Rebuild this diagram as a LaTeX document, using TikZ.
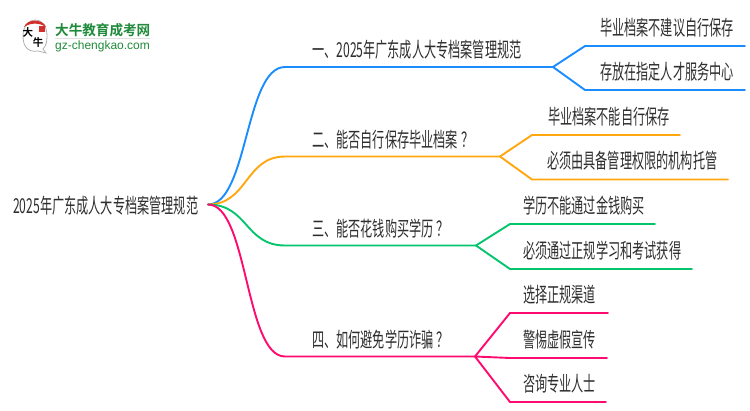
\documentclass[tikz,border=0pt]{standalone}
\usepackage{fontspec}
\usetikzlibrary{calc}
\setmainfont{Liberation Sans}
\newfontfamily\cjk[FakeStretch=0.59]{Noto Sans CJK SC}
\newfontfamily\cjklogo{Noto Sans CJK SC Bold}
\newfontfamily\cjkbold[FakeStretch=0.97]{Noto Sans CJK SC Bold}
\definecolor{cblue}{HTML}{1A8CFF}
\definecolor{corange}{HTML}{FFA70F}
\definecolor{cgreen}{HTML}{05C46E}
\definecolor{cpink}{HTML}{FF0A6E}
\definecolor{ctext}{HTML}{2E2E2E}
\definecolor{logogreen}{HTML}{1F8A3A}
\definecolor{logored}{HTML}{D32F2A}
\tikzset{
  lab/.style={anchor=base west,inner sep=0pt,text=ctext,font=\cjk\fontsize{20.6pt}{22pt}\selectfont},
  wire/.style={line width=1.9pt,line cap=round},
  pt/.style={inner sep=0pt,minimum size=0pt},
}
\newcommand{\qmark}{\hspace{3pt}？}
\begin{document}
\begin{tikzpicture}[x=1pt,y=-1pt]
\useasboundingbox (0,0) rectangle (750,410);
% logo
\draw[black!30,line width=.8pt,fill=white] (43,49) -- (46,53) -- (38,51) .. controls (26,53) and (23,44) .. (23,36) .. controls (23,26) and (29,20) .. (35,20) .. controls (43,20) and (47,27) .. (47,36) .. controls (47,42) and (46,46) .. (43,49) -- cycle;
\fill[logored] (24,27) .. controls (27,18.5) and (43,18.5) .. (46,27) .. controls (39,22.5) and (31,22.5) .. (24,27) -- cycle;
\fill[logored] (38.5,25.5) rectangle (44.5,31.5);
\node[pt,font=\cjklogo\fontsize{10.5pt}{11pt}\selectfont,text=black] (logoda) at (28,32.5) {大};
\node[pt,font=\cjklogo\fontsize{10.5pt}{11pt}\selectfont,text=black] (logoniu) at (38,43) {牛};
\node[pt,anchor=base west,font=\cjkbold\fontsize{14pt}{14pt}\selectfont,text=logogreen] (logot) at (55,35.5) {大牛教育成考网};
\node[pt,anchor=base west,font=\fontsize{12pt}{12pt}\selectfont,text=logogreen] (logou) at (55,49) {gz-chengkao.com};
\fill[black!12] (55,38) rectangle (150,39);
% anchors
\coordinate (root) at (208,204.5);
\coordinate (a) at (285,67); \coordinate (ae) at (553,67);
\coordinate (b) at (285,156.5); \coordinate (be) at (500,156.5);
\coordinate (c) at (285,245.5); \coordinate (ce) at (476,245.5);
\coordinate (d) at (285,356.5); \coordinate (de) at (475,356.5);
\coordinate (a1) at (585,46); \coordinate (a1e) at (745,46);
\coordinate (a2) at (585,90); \coordinate (a2e) at (745,90);
\coordinate (b1) at (532,135); \coordinate (b1e) at (680,135);
\coordinate (b2) at (532,179.5); \coordinate (b2e) at (728,179.5);
\coordinate (c1) at (510,224); \coordinate (c1e) at (655,224);
\coordinate (c2) at (510,269); \coordinate (c2e) at (692,269);
\coordinate (d1) at (510,313); \coordinate (d1e) at (608,313);
\coordinate (d2) at (510,358); \coordinate (d2e) at (607,358);
\coordinate (d3) at (510,402); \coordinate (d3e) at (606,402);
% main branches
\foreach \s/\e/\col in {a/ae/cblue,b/be/corange,c/ce/cgreen,d/de/cpink}{
  \draw[wire,\col] (root) .. controls ($(root)+(40,0)$) and ($(\s)+(-40,0)$) .. (\s) -- (\e);
}
% sub-branches
\foreach \s/\t/\e/\col in {ae/a1/a1e/cblue,ae/a2/a2e/cblue,be/b1/b1e/corange,be/b2/b2e/corange,ce/c1/c1e/cgreen,ce/c2/c2e/cgreen,de/d1/d1e/cpink,de/d2/d2e/cpink,de/d3/d3e/cpink}{
  \draw[wire,\col] (\s) .. controls ($(\s)!0.5!(\t)$ |- \s) and ($(\s)!0.5!(\t)$ |- \t) .. (\t) -- (\e);
}
% labels
\node[lab] (troot) at (13,213.5) {2025年广东成人大专档案管理规范};
\node[lab] (ta) at (312,57.5) {一、2025年广东成人大专档案管理规范};
\node[lab] (tb) at (312,147.5) {二、能否自行保存毕业档案\qmark};
\node[lab] (tc) at (312,236.5) {三、能否花钱购买学历\qmark};
\node[lab] (td) at (312,347.5) {四、如何避免学历诈骗\qmark};
\node[lab] (ta1) at (600,35.5) {毕业档案不建议自行保存};
\node[lab] (ta2) at (600,79.5) {存放在指定人才服务中心};
\node[lab] (tb1) at (548,124.5) {毕业档案不能自行保存};
\node[lab] (tb2) at (547,168.5) {必须由具备管理权限的机构托管};
\node[lab] (tc1) at (523,213.5) {学历不能通过金钱购买};
\node[lab] (tc2) at (523,258.5) {必须通过正规学习和考试获得};
\node[lab] (td1) at (523,302.5) {选择正规渠道};
\node[lab] (td2) at (523,347.5) {警惕虚假宣传};
\node[lab] (td3) at (523,391.5) {咨询专业人士};
\end{tikzpicture}
\end{document}
